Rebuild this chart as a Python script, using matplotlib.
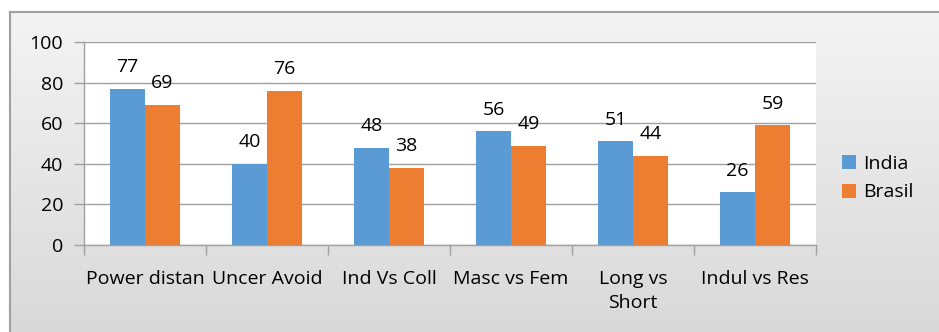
import numpy as np
import matplotlib
matplotlib.use("Agg")
import matplotlib.pyplot as plt

categories = ["Power distan", "Uncer Avoid", "Ind Vs Coll", "Masc vs Fem", "Long vs\nShort", "Indul vs Res"]
india = [77, 40, 48, 56, 51, 26]
brasil = [69, 76, 38, 49, 44, 59]
yticks = [0, 20, 40, 60, 80, 100]

plt.rcParams['font.family'] = ['Open Sans', 'DejaVu Sans']
FS = 14
W, H = 939, 332
fig = plt.figure(figsize=(W/100, H/100), dpi=100)
fig.patch.set_facecolor("white")

# gradient background inside border
bg = fig.add_axes([10/W, 0, 1 - 10/W, 1 - 12/H], zorder=0)
grad = np.linspace(0.955, 0.85, 256).reshape(-1, 1)
bg.imshow(np.dstack([grad, grad, grad]), aspect='auto', extent=[0, 1, 0, 1])
bg.set_xlim(0, 1); bg.set_ylim(0, 1)
bg.set_xticks([]); bg.set_yticks([])
for s in ["right", "bottom"]:
    bg.spines[s].set_visible(False)
for s in ["left", "top"]:
    bg.spines[s].set_color("#a0a0a0")
    bg.spines[s].set_linewidth(1.5)

left, right, top, bottom = 84, 816, 42, 245
ax = fig.add_axes([left/W, 1 - bottom/H, (right-left)/W, (bottom-top)/H], zorder=1)
ax.set_facecolor("white")
x = np.arange(len(categories))
bw = 1/3.5
c1, c2 = "#5b9bd5", "#ed7d31"
b1 = ax.bar(x - bw/2, india, bw, color=c1, label="India", zorder=2)
b2 = ax.bar(x + bw/2, brasil, bw, color=c2, label="Brasil", zorder=2)
for bars, vals in ((b1, india), (b2, brasil)):
    for r, v in zip(bars, vals):
        ax.annotate(str(v), (r.get_x() + r.get_width()/2, v), xytext=(0, 9),
                    textcoords="offset points", ha="center", va="bottom", fontsize=FS, color="#000000", zorder=3)

ax.set_xlim(-0.5, len(categories) - 0.5)
ax.set_ylim(0, 100)
ax.set_yticks(yticks)
ax.set_yticklabels([str(t) for t in yticks], fontsize=FS)
ax.yaxis.grid(True, color="#a0a0a0", linewidth=1, zorder=1)
ax.set_axisbelow(True)
ax.tick_params(axis='y', length=7, color="#a0a0a0", pad=8, width=1)
ax.set_xticks(np.arange(-0.5, len(categories), 1))
ax.set_xticklabels([])
ax.set_xticks(x, minor=True)
ax.set_xticklabels(categories, minor=True, fontsize=FS, linespacing=1.45)
ax.tick_params(axis='x', which='major', length=7, color="#a0a0a0", width=1)
ax.tick_params(axis='x', which='minor', length=0, pad=18)
for s in ["top", "right"]:
    ax.spines[s].set_visible(False)
for s in ["left", "bottom"]:
    ax.spines[s].set_color("#a0a0a0")
    ax.spines[s].set_linewidth(1)

leg = fig.legend(handles=[b1, b2], loc="upper left", bbox_to_anchor=(832/W, 1 - 145/H),
                 frameon=False, fontsize=FS, handlelength=0.75, handleheight=0.75,
                 handletextpad=0.35, labelspacing=0.55, borderpad=0)

fig.savefig("out.png", dpi=100, facecolor=fig.get_facecolor())
